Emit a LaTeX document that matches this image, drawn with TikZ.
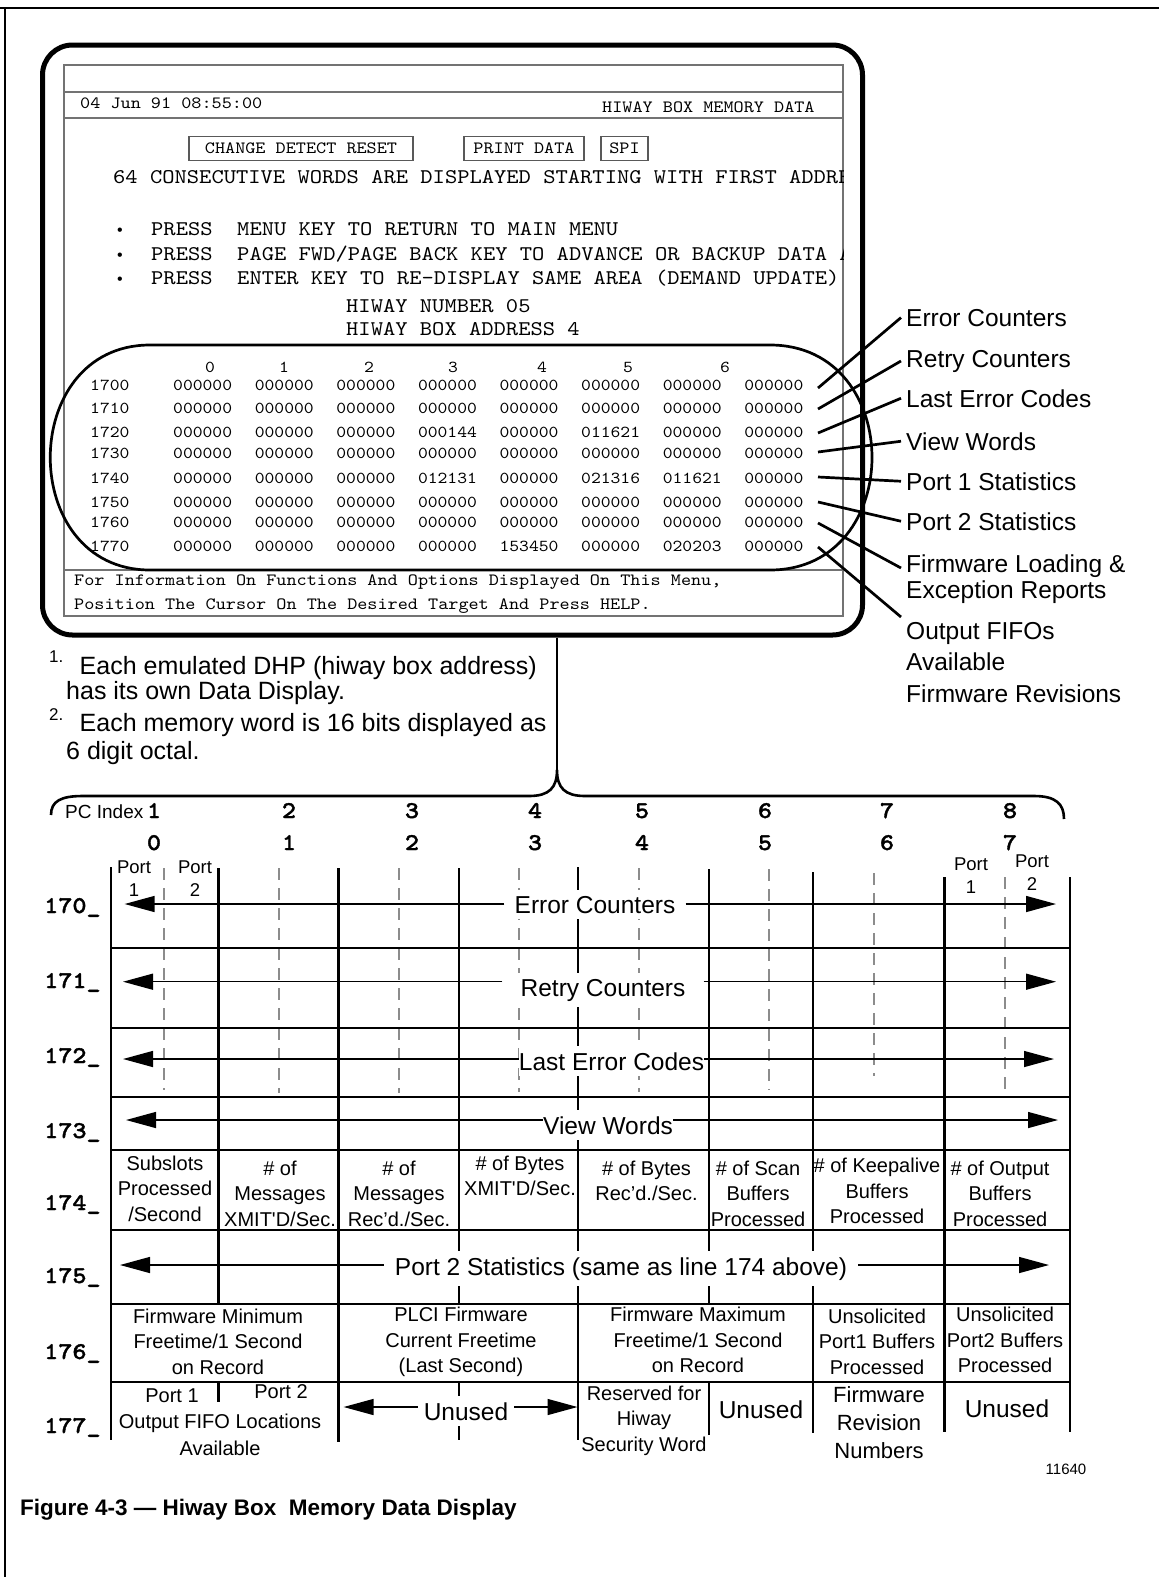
\documentclass[tikz,border=0pt]{standalone}
\usepackage{fontspec}
\setmainfont{Liberation Sans}
\newfontfamily\scrfont{lmmono10-regular.otf}[FakeStretch=1.12,BoldFont=lmmonolt10-bold.otf,BoldFeatures={FakeBold=1.5}]
\usetikzlibrary{arrows.meta}

\newcommand\scrbig{\scrfont\fontsize{20.9}{24}\selectfont}
\newcommand\scrsmall{\scrfont\fontsize{17.2}{20}\selectfont}
\newcommand\scrtab{\scrfont\fontsize{16.7}{20}\selectfont}
\newcommand\hdrnum{\scrfont\bfseries\fontsize{24}{26}\selectfont}
\newcommand\lblfont{\fontsize{24.5}{25.5}\selectfont}
\newcommand\notefont{\fontsize{25}{28}\selectfont}
\newcommand\cellfont{\fontsize{20}{25.5}\selectfont}
\newcommand\zz{000000}

\begin{document}
\begin{tikzpicture}[x=1pt,y=-1pt,>={Triangle[length=30pt,width=16pt]},
  gridln/.style={line width=2.6pt},
  portdash/.style={draw=black!45,line width=2pt,dash pattern=on 12pt off 8pt},
  scrline/.style={draw=black!55,line width=1.4pt},
  scrtxt/.style={anchor=base west,inner sep=0pt,font=\scrbig},
  scrsm/.style={anchor=base west,inner sep=0pt,font=\scrsmall},
  tabtxt/.style={anchor=base west,inner sep=0pt,font=\scrtab},
  btn/.style={draw=black!65,line width=1.3pt,minimum height=24pt,inner sep=0pt,font=\scrsmall},
  hilite/.style={line width=2.7pt},
  callout/.style={line width=2.7pt},
  lead/.style={line width=2.6pt},
  lbl/.style={anchor=base west,font=\lblfont,inner xsep=5pt,inner ysep=0pt},
  note/.style={anchor=base west,font=\notefont,inner sep=0pt},
  hdr/.style={anchor=base,font=\hdrnum,inner sep=0pt},
  port/.style={anchor=north,align=center,font=\fontsize{18.5}{23}\selectfont,inner sep=0pt},
  rowtxt/.style={anchor=base,font=\lblfont,fill=white,inner ysep=6pt},
  arr/.style={line width=1.4pt,->},
  cell/.style={anchor=north,align=center,font=\cellfont,inner sep=0pt}]
\useasboundingbox (0,0) rectangle (1159,1577);

% page frame
\draw[line width=2pt] (0,8) -- (1159,8) (5,8) -- (5,1577);

% the terminal screen
\node[draw,line width=5pt,rounded corners=30pt,minimum width=820pt,minimum height=590pt,inner sep=0pt] (bezel) at (452.5,340) {};
\draw[scrline] (64,65) rectangle (843,616);
\foreach \y in {92,118,570}
  \draw[scrline] (64,\y) -- (843,\y);

\begin{scope}
\clip (64,65) rectangle (843,616);
\node[scrsm] (date) at (80,108) {04 Jun 91 08:55:00};
\node[scrsm] (title) at (602,112) {HIWAY BOX MEMORY DATA};
\node[btn,minimum width=224pt] (cdr) at (301,148.5) {CHANGE DETECT RESET\hspace{10pt}};
\node[btn,minimum width=120pt] (prt) at (524,148.5) {PRINT DATA};
\node[btn,minimum width=47pt] (spi) at (624.5,148.5) {SPI};
\node[scrtxt] (cons) at (113,183) {64 CONSECUTIVE WORDS ARE DISPLAYED STARTING WITH FIRST ADDRESS};
\foreach \y [count=\i] in {235,260,284}
  \node[anchor=base,inner sep=0pt,font=\fontsize{16}{16}\selectfont] (bul\i) at (120,\y) {\textbullet};
\node[scrtxt] (pr1) at (151,235) {PRESS\ \ MENU KEY TO RETURN TO MAIN MENU};
\node[scrtxt] (pr2) at (151,260) {PRESS\ \ PAGE FWD/PAGE BACK KEY TO ADVANCE OR BACKUP DATA AREA};
\node[scrtxt] (pr3) at (151,284) {PRESS\ \ ENTER KEY TO RE-DISPLAY SAME AREA (DEMAND UPDATE)};
\node[scrtxt] (hwn) at (346,312) {HIWAY NUMBER 05};
\node[scrtxt] (hwa) at (346,335) {HIWAY BOX ADDRESS 4};
% memory words
\foreach \h [count=\i from 0] in {210,284,369,453,542,628,725}
  \node[anchor=base,inner sep=0pt,font=\scrtab] (col\i) at (\h,372) {\i};
\foreach \r/\y/\v [count=\j from 0] in {
    1700/390/{\zz,\zz,\zz,\zz,\zz,\zz,\zz,\zz},
    1710/413/{\zz,\zz,\zz,\zz,\zz,\zz,\zz,\zz},
    1720/437/{\zz,\zz,\zz,000144,\zz,011621,\zz,\zz},
    1730/458/{\zz,\zz,\zz,\zz,\zz,\zz,\zz,\zz},
    1740/483/{\zz,\zz,\zz,012131,\zz,021316,011621,\zz},
    1750/507/{\zz,\zz,\zz,\zz,\zz,\zz,\zz,\zz},
    1760/527/{\zz,\zz,\zz,\zz,\zz,\zz,\zz,\zz},
    1770/551/{\zz,\zz,\zz,\zz,153450,\zz,020203,\zz}} {
  \node[tabtxt] (adr\j) at (90,\y) {\r};
  \foreach \w [count=\c from 0] in \v
    \node[tabtxt] (w\j\c) at ({173+81.6*\c},\y) {\w};
}
\node[scrsm] (info1) at (74,585) {For Information On Functions And Options Displayed On This Menu,};
\node[scrsm] (info2) at (74,609) {Position The Cursor On The Desired Target And Press HELP.};
\end{scope}

% ring round the words
\draw[hilite] (150,345) -- (770,345) .. controls (906,345) and (906,570) .. (770,570)
  -- (150,570) .. controls (17,570) and (17,345) .. (150,345) -- cycle;

% callouts to the right
\foreach \n/\y in {0/388,1/409,2/433,3/452,4/477,5/502,6/523,7/547}
  \coordinate (e\n) at (818,\y);
\node[lbl] (lec) at (901,326) {Error Counters};
\node[lbl] (lrc) at (901,367) {Retry Counters};
\node[lbl] (llc) at (901,407) {Last Error Codes};
\node[lbl] (lvw) at (901,450) {View Words};
\node[lbl] (lp1) at (901,490) {Port 1 Statistics};
\node[lbl] (lp2) at (901,530) {Port 2 Statistics};
\node[lbl,anchor=north west,align=left] (lfw) at (901,555) {Firmware Loading \&\\Exception Reports};
\node[lbl,anchor=north west,align=left,font=\fontsize{24.5}{31.5}\selectfont] (lof) at (901,622) {Output FIFOs\\Available\\Firmware Revisions};
\foreach \s/\t in {e0/lec,e1/lrc,e2/llc,e3/lvw,e4/lp1,e5/lp2}
  \draw[callout] (\s) -- (\t.west);
\draw[callout] (e6) -- ([yshift=-13pt]lfw.north west);
\draw[callout] (e7) -- ([yshift=5pt]lof.north west);

% notes
\node[note,font=\fontsize{17}{17}\selectfont] (n1) at (49,662) {1.};
\node[note] (n1a) at (79.5,674) {Each emulated DHP (hiway box address)};
\node[note] (n1b) at (66,699) {has its own Data Display.};
\node[note,font=\fontsize{17}{17}\selectfont] (n2) at (49,720) {2.};
\node[note] (n2a) at (79.5,731) {Each memory word is 16 bits displayed as};
\node[note] (n2b) at (66,759) {6 digit octal.};

% brace
\coordinate (brtip) at (557,770);
\draw[lead] (bezel.south -| brtip) -- (brtip);
\draw[lead] (51,815) .. controls (51,801) and (61,796) .. (83,796) -- (529,796)
  .. controls (549,796) and (557,788) .. (brtip) .. controls (557,788) and (565,796) .. (585,796)
  -- (1034,796) .. controls (1056,796) and (1064,804) .. (1064,819);

% index heads
\node[anchor=base west,inner sep=0pt,font=\fontsize{19}{19}\selectfont] (pcidx) at (65,818) {PC Index};
\foreach \x/\k [count=\i] in {154/0,289/1,412/2,535/3,642/4,765/5,887/6,1010/7} {
  \node[hdr] (pc\i) at (\x,818) {\i};
  \node[hdr] (ix\k) at (\x,850) {\k};
}

% port dividers
\foreach \x/\t/\b in {164/868/1090,278.6/868/1093,398.6/868/1093,518.6/868/1092,639/868/1092,769.4/869/1090,873.6/873/1076,1004.7/877/1092}
  \draw[portdash] (\x,\t) -- (\x,\b);

% grid
\foreach \x/\t/\b in {111/867/1440,338.6/868/1442,578/867/1440,813/872/1433,944.5/877/1432,1070/877/1432}
  \draw[gridln] (\x,\t) -- (\x,\b);
\foreach \x/\t in {218.6/868,459/868,709/869}
  \draw[gridln] (\x,\t) -- (\x,1304);
\draw[gridln] (218.6,1382) -- (218.6,1402);
\draw[gridln] (459,1382) -- (459,1440);
\draw[gridln] (709,1382) -- (709,1435);
\foreach \y in {948,1028,1097,1150,1230,1304,1382}
  \draw[gridln] (111,\y) -- (1070,\y);

% word addresses
\foreach \y [count=\i from 0] in {913,988,1063,1138,1210,1283,1359,1433}
  \node[anchor=base west,inner sep=0pt,font=\hdrnum] (row\i) at (44,\y) {17\i\_};

% port heads
\node[port] (pa1) at (134,861) {Port\\1};
\node[port] (pa2) at (195,861) {Port\\2};
\node[port] (pb1) at (971,858) {Port\\1};
\node[port] (pb2) at (1032,855) {Port\\2};

% rows spread over all words
\foreach \n/\xl/\xr/\y in {0/124.6/1056/904,1/123/1056/981.7,2/123/1054/1059,3/126/1058/1120,5/120/1049/1265,7/343.6/577.5/1407} {
  \coordinate (l\n) at (\xl,\y);
  \coordinate (r\n) at (\xr,\y);
}
\node[rowtxt,inner xsep=10pt] (t0) at (595,913) {Error Counters};
\node[rowtxt,inner xsep=18pt] (t1) at (603,996) {Retry Counters};
\node[rowtxt,inner xsep=0pt] (t2) at (611.5,1070) {Last Error Codes};
\node[rowtxt,inner xsep=0pt] (t3) at (608,1134) {View Words};
\node[rowtxt,inner xsep=11pt] (t5) at (621,1275) {Port 2 Statistics (same as line 174 above)};
\node[rowtxt,inner xsep=6pt] (t7) at (466,1420) {Unused};
\foreach \n in {0,1,2,3,5,7} {
  \draw[arr] (t\n.west |- l\n) -- (l\n);
  \draw[arr] (t\n.east |- r\n) -- (r\n);
}

% line 174
\node[cell] (c1) at (165,1155.5) {Subslots\\Processed\\/Second};
\node[cell] (c2) at (280,1160.5) {\# of\\Messages\\XMIT\textquotesingle D/Sec.};
\node[cell] (c3) at (399,1160.5) {\# of\\Messages\\Rec’d./Sec.};
\node[cell] (c4) at (520,1155.5) {\# of Bytes\\XMIT\textquotesingle D/Sec.};
\node[cell] (c5) at (646.5,1160.5) {\# of Bytes\\Rec’d./Sec.};
\node[cell] (c6) at (758,1160.5) {\# of Scan\\Buffers\\Processed};
\node[cell] (c7) at (877,1158) {\# of Keepalive\\Buffers\\Processed};
\node[cell] (c8) at (1000,1160.5) {\# of Output\\Buffers\\Processed};

% line 176
\node[cell] (c9) at (218,1308.5) {Firmware Minimum\\Freetime/1 Second\\on Record};
\node[cell] (c10) at (461,1307) {PLCI Firmware\\Current Freetime\\(Last Second)};
\node[cell] (c11) at (698,1307) {Firmware Maximum\\Freetime/1 Second\\on Record};
\node[cell] (c12) at (877,1308.5) {Unsolicited\\Port1 Buffers\\Processed};
\node[cell] (c13) at (1005,1307) {Unsolicited\\Port2 Buffers\\Processed};

% line 177
\node[anchor=base,inner sep=0pt,font=\cellfont] (fp1) at (172,1402) {Port 1};
\node[anchor=base,inner sep=0pt,font=\cellfont] (fp2) at (281,1398) {Port 2};
\node[cell,font=\fontsize{20}{27}\selectfont] (c14) at (220,1413.5) {Output FIFO Locations\\Available};
\node[cell] (c15) at (644,1385.5) {Reserved for\\Hiway\\Security Word};
\node[anchor=base,inner sep=0pt,font=\lblfont] (un2) at (761,1418) {Unused};
\node[cell,font=\fontsize{22}{28}\selectfont] (c16) at (879,1386) {Firmware\\Revision\\Numbers};
\node[anchor=base,inner sep=0pt,font=\lblfont] (un3) at (1007,1417) {Unused};

\node[font=\fontsize{15}{15}\selectfont,inner sep=0pt] (fignum) at (1066,1469) {11640};
\node[anchor=base west,inner sep=0pt,font=\fontsize{22.5}{24}\selectfont\bfseries] (cap) at (20,1515) {Figure 4-3 — Hiway Box\ \ Memory Data Display};
\end{tikzpicture}
\end{document}
